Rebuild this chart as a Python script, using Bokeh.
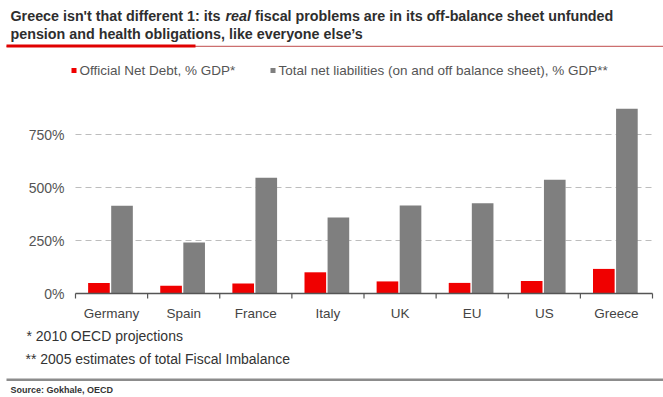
import numpy as np
from bokeh.plotting import figure
from bokeh.models import Range1d, Label, BoxAnnotation
from bokeh.core.properties import value
from bokeh.embed import file_html
from bokeh.resources import INLINE

# ---- data ----
countries = ["Germany", "Spain", "France", "Italy", "UK", "EU", "US", "Greece"]
net_debt = [50, 36, 47, 100, 57, 50, 59, 116]          # Official Net Debt, % GDP*
total_liab = [414, 241, 546, 358, 415, 426, 536, 872]  # Total net liabilities, % GDP**
y_ticks = [0, 250, 500, 750]
y_tick_labels = ["0%", "250%", "500%", "750%"]

title_1a = "Greece isn't that different 1: its"
title_1b = "real"
title_1c = "fiscal problems are in its off-balance sheet unfunded"
title_2 = "pension and health obligations, like everyone else\u2019s"
legend_1 = "Official Net Debt, % GDP*"
legend_2 = "Total net liabilities (on and off balance sheet), % GDP**"
note_1 = "* 2010 OECD projections"
note_2 = "** 2005 estimates of total Fiscal Imbalance"
source = "Source: Gokhale, OECD"

W, H = 663, 397
# plot area inside the canvas (pixels)
PL, PR, PT, PB = 75, 652, 81, 293
Y_MAX = 1000
FONT = "Liberation Sans"

ncat = len(countries)
kx = ncat / (PR - PL)          # data units per pixel, x
ky = Y_MAX / (PB - PT)         # data units per pixel, y

p = figure(width=W, height=H, output_backend="svg", toolbar_location=None,
           x_range=Range1d(-PL * kx, ncat + (W - PR) * kx),
           y_range=Range1d(-(H - PB) * ky, Y_MAX + PT * ky),
           min_border=0, x_axis_location=None, y_axis_location=None)
p.outline_line_color = None
p.grid.visible = False
p.background_fill_color = "white"
p.border_fill_color = "white"

idx = np.arange(ncat)

# dashed gridlines
p.segment(x0=[0] * len(y_ticks[1:]), x1=[ncat] * len(y_ticks[1:]), y0=y_ticks[1:], y1=y_ticks[1:],
          line_color="#bdbdbd", line_dash="6 4", line_width=1)

# bars
p.vbar(x=idx + 0.325, top=net_debt, width=0.30, color="#f00000", line_color=None)
p.vbar(x=idx + 0.645, top=total_liab, width=0.30, color="#7f7f7f", line_color=None)

# x axis line and boundary ticks
p.segment(x0=[0], x1=[ncat], y0=[0], y1=[0], line_color="#555555", line_width=1.5)
bounds = np.arange(ncat + 1)
p.segment(x0=bounds, x1=bounds, y0=np.zeros(ncat + 1), y1=np.full(ncat + 1, -5 * ky),
          line_color="#555555", line_width=1.2)

# category labels
p.text(x=idx + 0.5, y=np.zeros(ncat), text=countries, y_offset=12,
       text_font=value(FONT), text_font_size="13.5px", text_color="#444444",
       text_align="center", text_baseline="top")

# y tick labels
p.text(x=np.zeros(len(y_ticks)), y=y_ticks, text=y_tick_labels, x_offset=-11,
       text_font=value(FONT), text_font_size="14px", text_color="#555555",
       text_align="right", text_baseline="middle")


def fy(cy):
    return H - cy


def text(t, cx, cy, size, color="#333333", style="normal", baseline="alphabetic"):
    p.add_layout(Label(x=cx, y=fy(cy), x_units="screen", y_units="screen", text=t,
                       text_font=FONT, text_font_size=size, text_font_style=style,
                       text_color=color, text_baseline=baseline, text_align="left"))


def box(x0, x1, y0, y1, color):
    p.add_layout(BoxAnnotation(left=x0, right=x1, top=fy(y0), bottom=fy(y1),
                               left_units="screen", right_units="screen",
                               top_units="screen", bottom_units="screen",
                               fill_color=color, fill_alpha=1, line_color=None))


# title
TS = "14.3px"
text(title_1a, 10, 15, TS, "#2e2e2e", "bold")
text(title_1b, 225, 15, TS, "#2e2e2e", "bold italic")
text(title_1c, 254.5, 15, TS, "#2e2e2e", "bold")
text(title_2, 10, 33, TS, "#2e2e2e", "bold")
box(6, 663, 45.3, 46.5, "#cc6f6f")
box(6, 195, 44, 47, "#e00000")

# legend
box(71, 76, 67.5, 72.5, "#f00000")
text(legend_1, 79, 70, "13.5px", "#555555", baseline="middle")
box(270, 275, 67.5, 72.5, "#7f7f7f")
text(legend_2, 278, 70, "13.5px", "#555555", baseline="middle")

# footnotes
text(note_1, 26, 335, "14px", "#333333", baseline="middle")
text(note_2, 25, 358, "14px", "#333333", baseline="middle")
box(6, 663, 378, 380.5, "#8c8c8c")
text(source, 10, 389, "9px", "#333333", "bold", baseline="middle")

open("out.html", "w").write(file_html(p, INLINE))
